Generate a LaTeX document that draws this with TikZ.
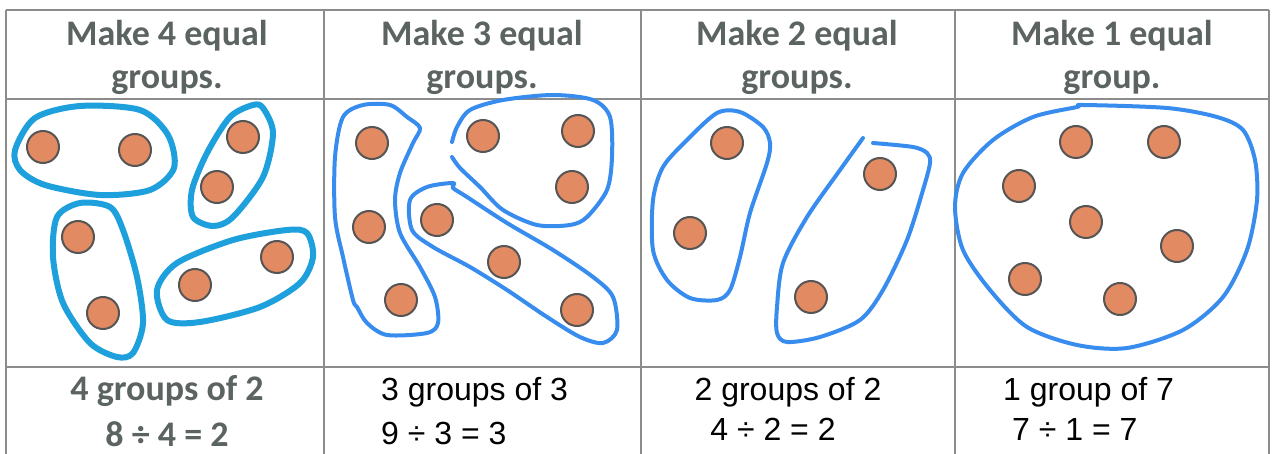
\documentclass[tikz,border=0pt]{standalone}
\usepackage{fontspec}
\newfontfamily\calfont{Carlito}
\newfontfamily\arifont{Liberation Sans}

\definecolor{gridgray}{RGB}{140,140,140}
\definecolor{headgray}{RGB}{92,100,98}
\definecolor{beadfill}{RGB}{226,138,98}
\definecolor{beadline}{RGB}{85,85,85}
\definecolor{penone}{RGB}{30,160,220}
\definecolor{pentwo}{RGB}{55,140,238}

\tikzset{
  bead/.style={circle, fill=beadfill, draw=beadline, line width=2pt, minimum size=32pt, inner sep=0pt},
  thickpen/.style={penone, line width=6pt, line join=round, line cap=round},
  thinpen/.style={pentwo, line width=4pt, line join=round, line cap=round},
  head/.style={font=\calfont\bfseries\fontsize{36}{43}\selectfont, text=headgray, inner sep=0pt},
  sumtext/.style={font=\arifont\fontsize{32}{38}\selectfont, inner sep=0pt},
}

\begin{document}
\begin{tikzpicture}[x=1pt, y=-1pt] % y runs downwards, as in the scan
  \useasboundingbox (0,0) rectangle (1274,454);

  % Table
  \foreach \y in {10,99,367}
    \draw[gridgray, line width=1.2pt] (6,\y) -- (1269,\y);
  \foreach \x in {6,324,641,955,1269}
    \draw[gridgray, line width=1.2pt] (\x,10) -- (\x,454);

  % Headings
  \node[head, anchor=base] (h1a) at (167,46) {Make 4 equal};
  \node[head, anchor=base] (h1b) at (167,89) {groups.};
  \node[head, anchor=base] (h2a) at (482,46) {Make 3 equal};
  \node[head, anchor=base] (h2b) at (482,89) {groups.};
  \node[head, anchor=base] (h3a) at (797,46) {Make 2 equal};
  \node[head, anchor=base] (h3b) at (797,89) {groups.};
  \node[head, anchor=base] (h4a) at (1112,46) {Make 1 equal};
  \node[head, anchor=base] (h4b) at (1112,89) {group.};

  % Beads
  \foreach \p/\n in {(43,147)/a1, (135,150)/a2, (243,137)/a3, (217,187)/a4,
                     (78,237)/a5, (103,313)/a6, (195,285)/a7, (277,257)/a8}
    \node[bead] (\n) at \p {};
  \foreach \p/\n in {(372,143)/b1, (369,227)/b2, (401,300)/b3, (483,136)/b4, (578,131)/b5,
                     (572,187)/b6, (437,220)/b7, (504,262)/b8, (577,310)/b9}
    \node[bead] (\n) at \p {};
  \foreach \p/\n in {(727,143)/c1, (690,233)/c2, (880,174)/c3, (811,297)/c4}
    \node[bead] (\n) at \p {};
  \foreach \p/\n in {(1076,142)/d1, (1164,142)/d2, (1019,186)/d3, (1086,222)/d4,
                     (1177,246)/d5, (1025,279)/d6, (1120,299)/d7}
    \node[bead] (\n) at \p {};

  % Circled groups, column 1
  \draw[thickpen] plot[smooth cycle] coordinates {(15,150) (35,118) (80,106) (140,110)
    (168,135) (174,168) (150,190) (100,195) (45,185) (20,170)};
  \draw[thickpen] plot[smooth cycle] coordinates {(263,108) (273,133) (263,177) (233,217)
    (213,226) (193,217) (192,190) (207,153) (230,117) (253,105)};
  \draw[thickpen] plot[smooth cycle] coordinates {(80,203) (110,207) (123,230) (137,277)
    (143,323) (133,353) (117,357) (90,343) (63,303) (53,257) (57,217)};
  \draw[thickpen] plot[smooth cycle] coordinates {(157,290) (177,263) (233,240) (287,230)
    (307,233) (313,257) (300,283) (260,307) (200,322) (167,320)};

  % Column 2
  \draw[thinpen] plot[smooth cycle] coordinates {(353,300) (343,257) (335,217) (335,157)
    (343,117) (363,105) (390,105) (407,117) (420,128) (413,143) (400,173) (395,200)
    (400,233) (420,267) (435,297) (438,323) (427,333) (387,335) (367,323) (357,307)};
  \draw[thinpen] plot[smooth] coordinates {(452,142) (457,127) (470,110) (503,100)
    (553,95) (593,100) (610,117) (612,157) (607,190) (587,217) (570,225) (537,225)
    (503,210) (480,187) (460,168) (452,157)};
  \draw[thinpen] plot[smooth cycle] coordinates {(453,183) (427,187) (410,200) (412,230)
    (433,247) (470,267) (507,290) (547,317) (580,337) (603,343) (617,330) (613,297)
    (593,277) (553,250) (507,223) (467,197) (453,188)};

  % Column 3
  \draw[thinpen] plot[smooth cycle] coordinates {(770,143) (763,127) (740,112) (717,113)
    (687,140) (663,167) (653,200) (653,250) (667,280) (690,298) (717,300) (730,290)
    (740,257) (750,213) (767,163)};
  \draw[thinpen] plot[smooth] coordinates {(863,138) (840,170) (807,217) (783,263)
    (777,307) (777,333) (787,342) (820,337) (860,320) (883,290) (907,240) (923,190)
    (930,163) (927,153) (913,147) (873,143)};

  % Column 4
  \draw[thinpen] plot[smooth cycle] coordinates {(1077,107) (1033,117) (993,140) (963,173)
    (955,207) (963,250) (990,290) (1027,327) (1077,345) (1127,348) (1183,330) (1223,297)
    (1247,250) (1257,200) (1255,160) (1243,130) (1217,117) (1167,108) (1083,105)};

  % Results
  \node[head, anchor=base] (r1a) at (167,400) {4 groups of 2};
  \node[head, anchor=base] (r1b) at (167,446) {8 ÷ 4 = 2};
  \node[sumtext, anchor=base west] (r2a) at (381,400) {3 groups of 3};
  \node[sumtext, anchor=base west] (r2b) at (381,444) {9 ÷ 3 = 3};
  \node[sumtext, anchor=base] (r3a) at (788,400) {2 groups of 2};
  \node[sumtext, anchor=base] (r3b) at (773,440) {4 ÷ 2 = 2};
  \node[sumtext, anchor=base west] (r4a) at (1003,400) {1 group of 7};
  \node[sumtext, anchor=base west] (r4b) at (1012,440) {7 ÷ 1 = 7};
\end{tikzpicture}
\end{document}
